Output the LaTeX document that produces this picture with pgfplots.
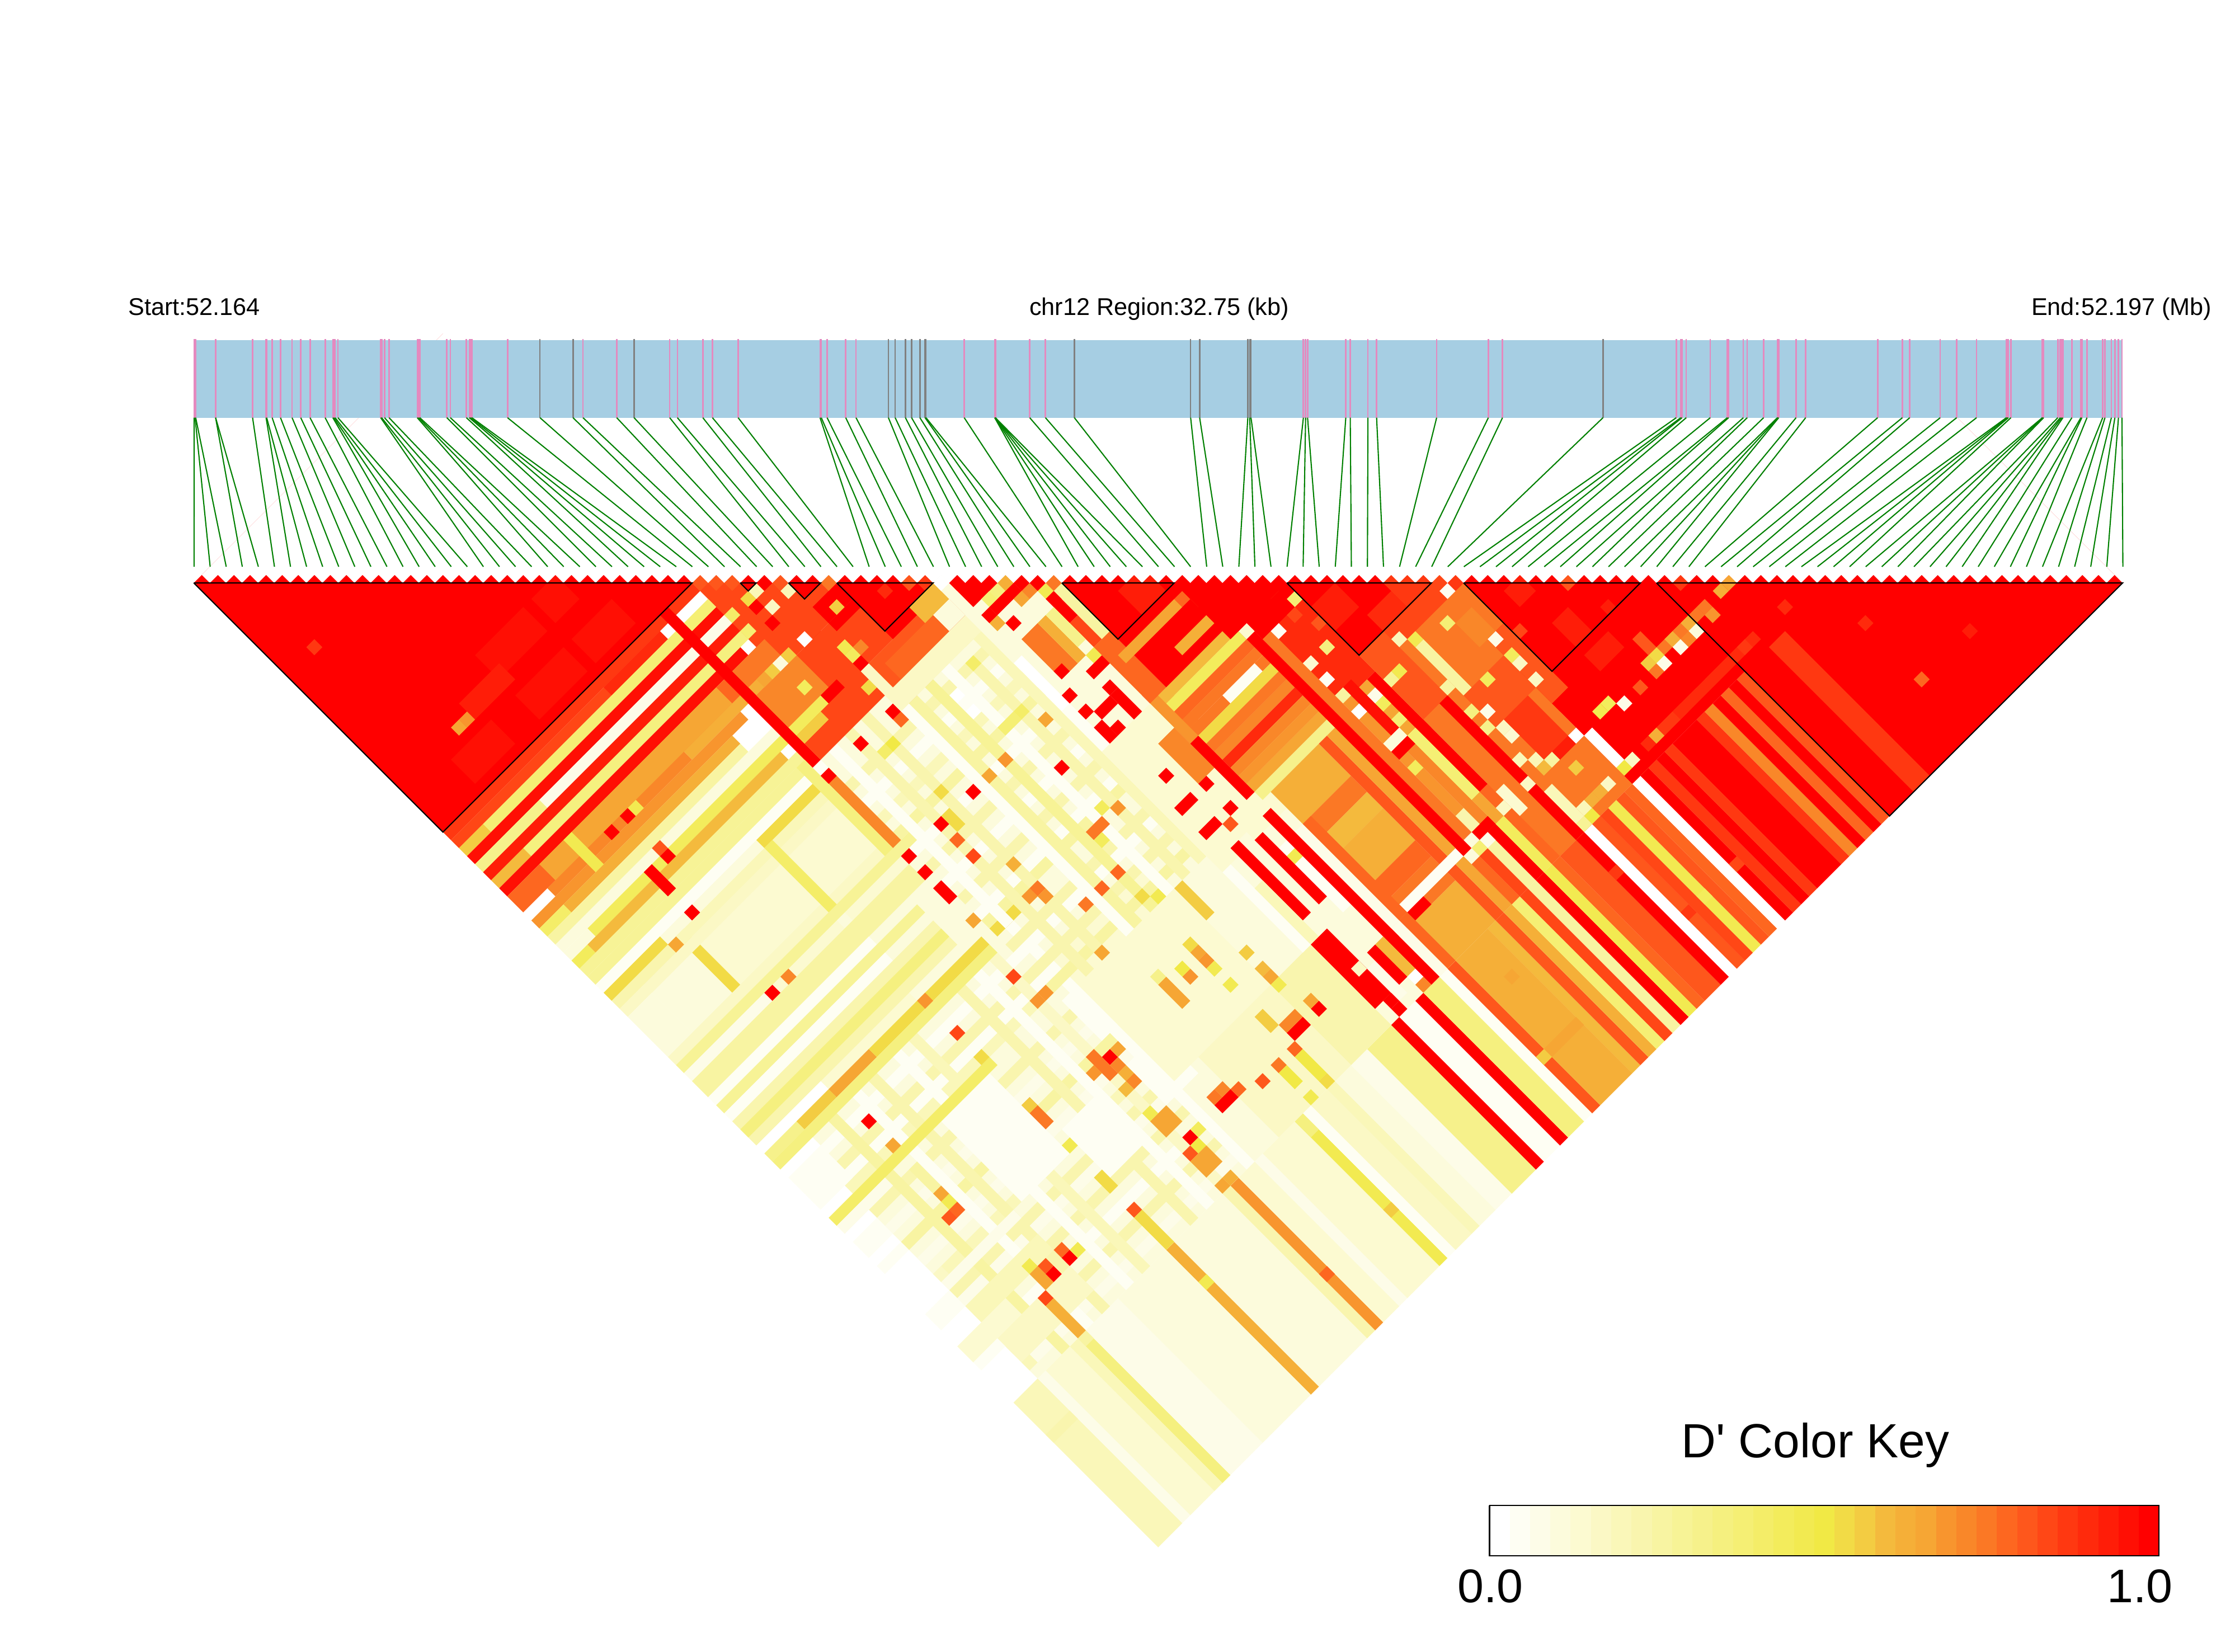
\documentclass[border=0pt]{standalone}
\usepackage{fontspec}
\setmainfont[Ligatures=TeXOff]{Liberation Sans}
\usepackage{pgfplots}
\usepackage{pgfplotstable}
\pgfplotsset{compat=1.18}

% key steps, D' = n/32
\definecolor{k0}{HTML}{FFFFFF}\definecolor{k1}{HTML}{FEFEF3}\definecolor{k2}{HTML}{FDFCE8}\definecolor{k3}{HTML}{FCFBDC}
\definecolor{k4}{HTML}{FCFAD1}\definecolor{k5}{HTML}{FBF8C5}\definecolor{k6}{HTML}{FAF7B9}\definecolor{k7}{HTML}{F9F5AE}
\definecolor{k8}{HTML}{F8F4A2}\definecolor{k9}{HTML}{F7F396}\definecolor{k10}{HTML}{F6F18B}\definecolor{k11}{HTML}{F5F07F}
\definecolor{k12}{HTML}{F5EF74}\definecolor{k13}{HTML}{F4ED68}\definecolor{k14}{HTML}{F3EC5C}\definecolor{k15}{HTML}{F2EA51}
\definecolor{k16}{HTML}{F1E945}\definecolor{k17}{HTML}{F2DB46}\definecolor{k18}{HTML}{F3CC42}\definecolor{k19}{HTML}{F4BA3D}
\definecolor{k20}{HTML}{F5AF38}\definecolor{k21}{HTML}{F6A634}\definecolor{k22}{HTML}{F8952E}\definecolor{k23}{HTML}{F98729}
\definecolor{k24}{HTML}{FB7825}\definecolor{k25}{HTML}{FD6720}\definecolor{k26}{HTML}{FE571C}\definecolor{k27}{HTML}{FF4716}
\definecolor{k28}{HTML}{FF3811}\definecolor{k29}{HTML}{FF2A0C}\definecolor{k30}{HTML}{FF1D08}\definecolor{k31}{HTML}{FF0F04}
\definecolor{k32}{HTML}{FF0000}
\definecolor{genebar}{HTML}{A6CEE3}
\definecolor{snppink}{HTML}{E48ABF}
\definecolor{snpgray}{HTML}{808080}
\definecolor{snpgreen}{HTML}{008000}

% a run of cells: a from #1 to #2, b from #3 to #4, D' step #5
\newcommand{\R}[5]{\edef\tmp{\noexpand\addplot[draw=none,fill=k#5] coordinates {(#1,#3)(#2,#3)(#2,#4)(#1,#4)};}\tmp}
\newcommand{\C}[3]{\pgfmathtruncatemacro\ax{#1+1}\pgfmathtruncatemacro\bx{#2+1}\R{#1}{\ax}{#2}{\bx}{#3}}
\newcommand{\K}[3]{\addplot[draw=none,fill=k#3] coordinates {(#1,2691)(#2,2691)(#2,2781)(#1,2781)};}

% SNP number and place on the gene bar
\pgfplotstableread{
k x
0 347.0
1 348.7
2 349.8
3 385.4
4 385.4
5 451.5
6 475.6
7 476.7
8 486.5
9 501.4
10 522.1
11 537.6
12 554.2
13 581.2
14 595.0
15 596.7
16 599.0
17 604.1
18 680.5
19 682.2
20 687.4
21 695.4
22 745.9
23 748.2
24 750.5
25 798.7
26 805.0
27 833.7
28 838.9
29 841.2
30 843.5
31 907.2
34 1042.1
35 1102.4
37 1197.1
38 1210.8
39 1256.3
40 1273.5
41 1319.4
42 1465.8
43 1468.1
44 1478.4
45 1511.7
46 1530.1
54 1723.5
55 1778.0
56 1778.3
57 1778.6
58 1778.9
59 1779.2
60 1840.6
61 1868.7
68 2329.7
69 2333.7
70 2337.2
71 2405.5
72 2413.5
73 2445.1
74 2460.6
75 2567.9
76 2660.3
77 2685.6
79 2996.2
80 3004.2
81 3006.5
82 3014.0
83 3057.0
84 3087.4
85 3089.7
86 3116.1
87 3123.0
88 3152.3
89 3177.0
90 3178.1
91 3179.3
92 3210.3
93 3227.5
94 3356.1
95 3400.3
96 3413.5
97 3468.0
98 3497.3
99 3532.9
100 3586.2
101 3588.0
102 3589.7
103 3594.3
104 3650.5
105 3651.7
106 3652.8
107 3678.1
108 3682.7
109 3685.0
110 3687.3
111 3703.3
112 3719.4
113 3721.1
114 3730.3
115 3758.4
116 3762.5
117 3773.9
118 3780.2
119 3786.6
120 3792.9
}\pinksnps
\pgfplotstableread{
k x
32 965.2
33 1024.3
36 1133.4
47 1588.0
48 1600.1
49 1618.4
50 1629.4
51 1644.3
52 1653.5
53 1655.2
62 1920.4
63 2128.2
64 2144.3
65 2230.4
66 2233.8
67 2236.1
78 2865.2
}\graysnps

\begin{document}
\begin{tikzpicture}
\path[use as bounding box] (0,0) rectangle (39.95cm,29.53cm);

% the LD triangle: x is the first SNP of a pair, y the second
\begin{axis}[
  x={(1.4365mm,1.4365mm)}, y={(1.4365mm,-1.4365mm)},
  at={(3.464cm,19.11cm)}, anchor=origin,
  xmin=0, xmax=120, ymin=0, ymax=120,
  hide axis, clip=false,
]
% b >= 102, long stripes
\R{0}{3}{102}{120}{6}\R{3}{4}{102}{120}{2}\R{4}{7}{102}{120}{4}\R{7}{8}{102}{120}{6}\R{8}{9}{102}{120}{11}
\R{9}{13}{102}{120}{2}\R{13}{19}{102}{120}{3}\R{19}{20}{102}{120}{20}\R{20}{26}{102}{120}{3}\R{26}{27}{102}{120}{7}
\R{27}{28}{102}{120}{22}\R{28}{30}{102}{120}{4}\R{30}{31}{102}{120}{2}\R{31}{35}{102}{120}{4}\R{35}{36}{102}{120}{15}
\R{36}{37}{102}{120}{1}\R{37}{39}{102}{120}{5}\R{39}{40}{102}{120}{6}\R{40}{42}{102}{120}{3}\R{42}{44}{102}{120}{2}
\R{44}{47}{102}{120}{10}\R{47}{48}{100}{120}{32}\R{48}{50}{102}{120}{1}\R{50}{51}{101}{120}{32}\R{51}{53}{102}{120}{11}
\R{53}{54}{102}{120}{1}\R{54}{55}{102}{120}{26}\R{55}{59}{102}{120}{20}\R{59}{60}{102}{120}{19}\R{60}{61}{102}{120}{26}
\R{61}{62}{102}{120}{20}\R{62}{63}{102}{120}{12}\R{63}{64}{102}{120}{27}\R{64}{65}{102}{120}{8}\R{65}{66}{102}{120}{32}
\R{66}{67}{102}{120}{15}\R{67}{68}{102}{120}{25}\R{68}{70}{102}{120}{26}\R{70}{71}{102}{120}{32}\R{71}{72}{102}{120}{0}
\R{72}{73}{102}{120}{26}\R{73}{74}{102}{120}{27}\R{74}{75}{102}{120}{15}\R{75}{76}{102}{120}{26}\R{76}{77}{102}{120}{25}
\R{77}{78}{101}{120}{0}\R{78}{79}{102}{120}{32}\R{79}{80}{102}{120}{28}\R{80}{81}{102}{120}{32}\R{81}{82}{102}{120}{28}
\R{82}{85}{102}{120}{32}\R{85}{86}{102}{120}{28}\R{86}{87}{98}{120}{23}\R{87}{88}{102}{120}{32}\R{88}{89}{102}{120}{25}
\R{89}{90}{102}{120}{32}\R{90}{91}{102}{120}{26}
\R{0}{3}{106}{107}{7}\C{19}{106}{15}\R{55}{59}{113}{114}{21}\C{54}{113}{18}\C{27}{113}{25}\C{35}{113}{18}\C{57}{106}{21}
\C{78}{113}{27}\C{70}{106}{28}\C{72}{113}{28}\C{74}{113}{14}\R{8}{9}{102}{103}{8}\R{35}{36}{102}{104}{11}

% pale middle
\R{3}{55}{48}{102}{3}
\R{8}{19}{54}{71}{4}\R{20}{27}{53}{64}{4}
\R{46}{47}{50}{62}{0}\R{40}{42}{53}{58}{0}
\R{3}{30}{74}{75}{1}\R{3}{30}{76}{77}{7}\R{3}{30}{77}{78}{1}\R{3}{30}{78}{79}{6}\R{3}{30}{81}{82}{7}\R{3}{30}{83}{84}{2}
\R{3}{30}{85}{86}{8}\R{3}{30}{87}{88}{2}\R{3}{30}{89}{90}{6}\R{3}{30}{91}{92}{7}\R{3}{30}{92}{93}{2}\R{3}{30}{94}{95}{7}\R{3}{30}{96}{97}{1}\R{3}{30}{98}{99}{7}\R{3}{30}{100}{101}{2}
\R{6}{7}{72}{102}{8}\R{9}{10}{72}{102}{1}\R{11}{12}{72}{102}{7}\R{14}{15}{72}{102}{1}\R{16}{17}{72}{102}{6}\R{22}{23}{72}{102}{7}\R{24}{25}{72}{102}{1}\R{26}{27}{72}{102}{5}\R{29}{30}{72}{102}{1}
\R{13}{19}{80}{90}{1}\R{28}{31}{80}{85}{1}\R{20}{25}{88}{94}{1}\R{28}{32}{88}{93}{1}
\R{30}{42}{76}{92}{4}\R{42}{47}{92}{102}{7}\R{33}{42}{92}{102}{5}\R{3}{12}{93}{95}{6}\R{3}{12}{97}{100}{5}
\R{8}{9}{52}{54}{13}\R{8}{9}{54}{59}{17}\R{8}{9}{81}{84}{8}

% rows over a
\R{0}{31}{31}{32}{28}\R{0}{26}{32}{33}{27}\R{19}{26}{32}{33}{29}\R{0}{3}{33}{34}{18}\R{3}{31}{33}{34}{12}
\R{0}{33}{34}{35}{31}\R{0}{8}{35}{36}{10}\R{8}{31}{35}{36}{2}\R{0}{33}{36}{37}{30}\R{0}{4}{37}{38}{19}\R{4}{31}{37}{38}{11}
\R{0}{30}{38}{39}{31}\R{0}{33}{39}{41}{25}\R{4}{26}{39}{41}{21}\R{0}{3}{41}{42}{0}\R{3}{20}{41}{42}{23}\R{20}{30}{41}{42}{20}
\R{0}{26}{42}{43}{22}\R{0}{3}{43}{44}{13}\R{3}{24}{43}{44}{20}\R{0}{24}{44}{45}{8}\R{0}{30}{45}{46}{3}\R{3}{33}{46}{47}{14}\R{0}{3}{46}{47}{3}
\R{0}{2}{47}{48}{14}\R{2}{26}{47}{48}{19}\R{0}{30}{48}{49}{9}\R{0}{30}{49}{50}{9}\R{0}{28}{50}{51}{1}
\R{0}{7}{51}{52}{17}\R{19}{28}{51}{52}{17}\R{0}{7}{52}{53}{7}\R{7}{27}{52}{53}{6}\R{0}{27}{53}{54}{5}\R{0}{3}{54}{59}{3}
\R{0}{27}{59}{60}{5}\R{0}{30}{60}{61}{9}\R{0}{10}{61}{62}{2}\R{0}{27}{62}{64}{8}\R{0}{20}{64}{65}{1}\R{0}{25}{65}{66}{9}
\R{0}{20}{66}{67}{1}\R{0}{25}{67}{70}{7}\R{0}{25}{68}{69}{11}\R{0}{8}{70}{71}{0}\R{0}{4}{71}{72}{10}\R{4}{8}{71}{72}{18}\R{8}{13}{71}{72}{21}\R{13}{27}{71}{72}{17}\R{28}{33}{71}{72}{17}
\R{0}{27}{72}{73}{11}\R{0}{4}{73}{74}{0}\R{0}{4}{74}{78}{1}\R{0}{3}{78}{79}{0}\R{0}{20}{79}{80}{13}\R{0}{6}{80}{81}{2}\R{0}{3}{81}{82}{0}\R{0}{3}{82}{84}{1}\R{0}{3}{85}{86}{1}
\R{0}{3}{91}{93}{1}\R{0}{6}{95}{97}{4}\R{0}{3}{97}{98}{1}\R{3}{4}{89}{90}{5}\R{3}{12}{90}{91}{2}\R{3}{4}{100}{101}{6}

% rows and columns through the middle
\R{28}{46}{53}{54}{7}\R{28}{46}{55}{56}{1}\R{28}{46}{57}{58}{6}\R{28}{46}{59}{60}{8}\R{28}{46}{61}{62}{1}\R{28}{46}{63}{64}{7}\R{28}{46}{65}{66}{1}\R{28}{46}{67}{68}{7}
\R{28}{46}{69}{70}{1}\R{28}{46}{70}{71}{8}\R{28}{46}{73}{74}{7}\R{28}{46}{74}{75}{1}\R{28}{46}{76}{77}{7}\R{28}{46}{78}{79}{8}
\R{33}{34}{50}{80}{7}\R{36}{37}{50}{80}{1}\R{37}{38}{50}{80}{8}\R{39}{40}{50}{80}{9}\R{41}{42}{50}{80}{1}\R{43}{44}{53}{80}{7}\R{45}{46}{50}{80}{6}
\R{46}{47}{62}{92}{1}\R{29}{30}{50}{72}{1}\R{31}{32}{50}{80}{7}

% columns and single cells in the pale part
\R{27}{28}{31}{50}{32}\R{27}{28}{52}{60}{23}\R{26}{27}{49}{60}{11}\R{19}{20}{52}{60}{13}\R{7}{8}{39}{43}{15}\R{35}{36}{35}{47}{32}
\R{10}{11}{46}{49}{32}\C{12}{46}{32}\C{12}{45}{26}\C{12}{41}{32}\C{10}{41}{32}\C{13}{41}{15}\C{10}{51}{32}\C{10}{61}{32}\C{12}{61}{23}
\C{7}{52}{21}\C{31}{51}{32}\C{31}{47}{32}\C{27}{51}{32}\C{35}{51}{32}\C{35}{52}{25}\C{35}{61}{32}\C{31}{61}{32}\C{31}{63}{25}\C{31}{65}{27}
\C{27}{61}{32}\C{27}{63}{32}\R{27}{28}{65}{67}{32}\C{27}{69}{21}\C{37}{61}{21}\C{33}{59}{17}\C{33}{53}{16}\C{32}{53}{13}
\C{39}{61}{22}\C{42}{65}{32}\C{44}{61}{21}\C{43}{59}{13}\R{41}{43}{59}{60}{12}\R{40}{42}{71}{72}{24}\C{43}{71}{22}\C{42}{70}{14}\C{40}{72}{14}\C{44}{51}{10}\C{43}{53}{13}\R{32}{33}{61}{63}{17}
\C{33}{68}{20}\C{33}{71}{24}\C{32}{71}{22}\C{33}{72}{22}\C{39}{75}{25}\C{37}{75}{25}\C{35}{75}{24}\C{39}{78}{17}\C{40}{79}{15}\R{42}{43}{80}{84}{18}
\C{33}{79}{21}\C{26}{75}{27}\C{26}{78}{22}\C{27}{78}{22}\C{19}{71}{22}\C{19}{75}{27}\C{19}{78}{17}\C{8}{75}{32}\C{8}{78}{21}\C{8}{84}{21}\C{8}{85}{15}\C{8}{86}{25}\C{7}{86}{26}
\R{19}{20}{84}{87}{24}\C{19}{84}{18}\C{19}{89}{15}\R{19}{20}{93}{95}{17}\C{19}{97}{26}\R{19}{20}{98}{102}{17}
\C{12}{95}{25}\C{12}{96}{32}\C{13}{96}{15}\C{10}{95}{26}\C{10}{96}{32}\C{8}{97}{27}\R{8}{9}{98}{102}{20}\C{9}{94}{15}\R{9}{10}{95}{97}{21}
\C{27}{86}{32}\R{26}{27}{85}{88}{24}\C{25}{86}{22}\C{28}{86}{21}\C{27}{87}{23}\C{27}{88}{20}\C{27}{89}{23}\C{26}{89}{19}
\R{26}{28}{93}{95}{21}\C{27}{96}{32}\C{26}{97}{26}\C{27}{97}{16}\R{26}{28}{98}{100}{21}\C{28}{96}{14}\C{26}{92}{15}\C{26}{101}{21}\C{27}{101}{20}
\C{39}{84}{17}\C{39}{85}{21}\C{39}{86}{22}\C{37}{86}{22}\C{37}{85}{16}\C{39}{87}{15}\R{35}{36}{85}{88}{21}\C{35}{84}{10}\C{39}{89}{15}
\C{42}{88}{18}\C{42}{90}{19}\C{42}{91}{21}\C{42}{92}{15}\R{39}{40}{93}{95}{18}
\R{31}{33}{96}{97}{32}\C{32}{95}{23}\C{31}{95}{24}\C{33}{96}{25}\C{43}{96}{32}\C{43}{95}{21}\R{40}{42}{96}{97}{32}\R{40}{42}{95}{96}{23}\C{39}{97}{25}
\C{37}{97}{24}\R{37}{38}{98}{100}{16}\R{39}{40}{98}{101}{16}\C{35}{97}{26}\C{39}{101}{17}\C{37}{101}{15}

% right of the first block
\R{28}{46}{42}{50}{27}\R{31}{46}{31}{42}{27}\R{28}{33}{42}{46}{23}\R{28}{32}{46}{47}{14}\R{28}{31}{47}{48}{18}
\R{28}{31}{33}{34}{12}\R{28}{31}{35}{36}{2}\R{28}{31}{37}{38}{11}\R{28}{32}{39}{41}{24}\C{29}{41}{21}\R{30}{31}{41}{42}{18}
\C{38}{41}{18}\R{37}{40}{40}{41}{32}\R{37}{40}{42}{43}{32}\C{37}{41}{32}\C{39}{41}{32}
\C{34}{41}{0}\C{31}{41}{3}\C{32}{41}{18}\C{34}{37}{5}\C{36}{37}{6}\C{33}{35}{17}\C{34}{35}{6}\C{33}{38}{32}\C{33}{36}{32}\C{31}{35}{13}\C{31}{37}{12}
\C{36}{46}{32}\C{36}{44}{15}\C{36}{45}{14}\C{37}{45}{23}\C{31}{44}{14}\R{32}{34}{46}{47}{32}\C{35}{48}{17}\C{38}{49}{19}\C{39}{51}{19}\C{37}{51}{21}\C{43}{49}{22}\C{42}{48}{16}
\R{36}{46}{47}{52}{5}\R{37}{46}{47}{50}{26}\R{38}{44}{48}{50}{25}\R{40}{43}{46}{47}{32}\R{43}{46}{46}{48}{19}\R{44}{46}{48}{50}{3}

% top of the middle
\R{46}{54}{46}{56}{3}\R{47}{50}{47}{50}{32}\C{49}{50}{11}\C{48}{50}{12}\C{50}{51}{8}\R{48}{51}{51}{52}{32}\C{51}{52}{23}\C{52}{53}{15}\C{53}{54}{8}\C{50}{52}{21}
\C{47}{52}{20}\C{47}{51}{32}\C{48}{53}{32}\R{48}{50}{55}{60}{24}\R{50}{51}{55}{60}{20}\R{52}{53}{54}{57}{32}\R{52}{53}{57}{60}{27}\R{51}{52}{55}{59}{10}\R{53}{54}{55}{60}{8}
\C{48}{59}{32}\C{51}{60}{15}\R{50}{52}{61}{62}{32}\C{50}{63}{32}\C{47}{61}{32}\C{47}{63}{32}\R{47}{48}{65}{67}{32}\C{48}{66}{32}\R{48}{50}{64}{65}{32}
\R{50}{51}{64}{67}{32}\C{52}{66}{32}\C{48}{69}{32}\C{52}{69}{32}\C{52}{68}{26}\C{53}{63}{10}\R{46}{54}{67}{82}{4}\R{52}{54}{60}{67}{25}
\R{52}{54}{67}{72}{22}\R{50}{52}{70}{75}{23}\C{48}{72}{32}\C{50}{75}{32}\R{52}{53}{72}{79}{32}\R{47}{49}{75}{76}{32}\C{50}{78}{32}\R{47}{49}{78}{79}{32}\C{49}{79}{26}

% orange block, middle right
\R{54}{62}{61}{67}{32}\R{53}{60}{62}{63}{21}\R{57}{61}{65}{66}{20}\C{60}{62}{25}\C{61}{62}{28}\C{61}{63}{26}
\R{53}{62}{67}{68}{19}\R{53}{62}{68}{69}{14}\R{53}{62}{69}{70}{25}\R{53}{62}{70}{71}{24}\R{53}{62}{71}{72}{24}\R{57}{61}{71}{72}{1}
\R{53}{62}{72}{73}{17}\R{53}{62}{73}{74}{24}\R{53}{62}{74}{75}{23}\R{53}{62}{75}{76}{29}\R{53}{62}{76}{77}{23}\R{53}{62}{77}{78}{22}\R{53}{62}{78}{79}{21}\R{53}{62}{79}{80}{10}
\R{54}{60}{80}{84}{20}\R{54}{60}{84}{86}{24}\R{54}{60}{86}{88}{19}\R{54}{60}{88}{92}{20}\R{54}{60}{92}{94}{25}\R{54}{60}{94}{97}{24}\R{54}{60}{97}{102}{20}
\R{60}{61}{80}{102}{26}\R{61}{62}{80}{102}{21}\R{54}{62}{95}{96}{1}\R{52}{57}{96}{97}{32}
\R{53}{54}{84}{96}{2}\R{54}{55}{84}{96}{25}\R{54}{55}{96}{102}{25}\R{53}{54}{96}{102}{2}
\R{49}{50}{81}{92}{3}\R{51}{52}{84}{92}{1}\C{51}{85}{15}\R{48}{49}{81}{90}{32}\R{50}{51}{82}{90}{32}\R{52}{53}{81}{102}{32}\R{47}{48}{85}{92}{6}
\R{47}{49}{92}{100}{32}\C{48}{96}{5}\R{51}{52}{96}{100}{19}\R{49}{50}{97}{101}{2}\R{50}{51}{96}{100}{32}\C{51}{100}{0}\C{51}{101}{23}\C{48}{100}{32}\C{48}{101}{32}

% a from 62 up
\R{63}{68}{61}{79}{29}\R{62}{63}{61}{69}{29}\R{63}{68}{61}{70}{32}\R{62}{63}{69}{96}{32}\R{62}{63}{96}{102}{25}
\R{63}{64}{70}{96}{24}\R{64}{65}{79}{96}{22}\R{65}{66}{79}{96}{23}\R{66}{67}{79}{96}{21}\R{67}{68}{79}{93}{32}\R{64}{68}{85}{86}{32}\R{65}{66}{78}{84}{31}
\R{66}{67}{85}{93}{12}\R{63}{64}{96}{102}{27}\R{64}{65}{96}{102}{8}\R{65}{66}{96}{102}{32}\R{66}{67}{96}{102}{14}\R{67}{70}{93}{102}{25}\R{62}{66}{95}{96}{32}
\R{68}{80}{77}{102}{24}\R{68}{71}{77}{85}{26}\R{70}{71}{85}{102}{32}\R{68}{77}{68}{77}{32}\R{68}{71}{71}{74}{30}\R{71}{74}{75}{77}{29}\R{74}{77}{74}{77}{28}
\R{72}{79}{86}{90}{26}\R{71}{77}{77}{79}{27}\R{72}{73}{80}{86}{8}\R{73}{76}{90}{96}{28}\R{72}{77}{95}{96}{30}\R{77}{78}{84}{100}{22}\R{77}{78}{93}{95}{2}
\R{76}{78}{81}{84}{23}\R{78}{79}{79}{84}{24}\R{79}{80}{79}{84}{30}\R{77}{79}{77}{79}{26}\R{77}{91}{84}{102}{32}\R{77}{79}{84}{92}{26}
\C{62}{65}{4}\C{64}{65}{12}\C{61}{67}{13}\C{62}{68}{4}\C{64}{70}{1}\C{67}{69}{12}\C{66}{70}{27}\C{67}{72}{26}\C{66}{67}{26}
\C{64}{74}{4}\C{66}{74}{11}\C{64}{76}{1}\C{64}{78}{8}\C{64}{80}{0}\C{66}{80}{2}\C{66}{81}{14}\C{66}{83}{12}\C{71}{78}{6}\C{72}{79}{15}\C{75}{80}{12}\C{77}{78}{1}
\C{77}{84}{2}\C{74}{86}{14}\C{71}{84}{8}\C{69}{80}{15}\C{68}{80}{9}\C{66}{96}{14}\R{68}{69}{94}{97}{4}\C{71}{87}{11}\C{72}{88}{2}\C{71}{89}{10}\C{64}{87}{14}\R{64}{66}{84}{85}{3}
\C{63}{95}{3}\C{64}{96}{2}\C{63}{96}{12}\C{62}{96}{3}\C{77}{86}{14}\C{77}{87}{5}\C{77}{89}{5}\C{76}{95}{0}\C{72}{90}{5}\C{72}{91}{4}\C{71}{93}{6}\C{72}{94}{6}\C{73}{95}{8}\C{74}{97}{18}
\C{72}{95}{19}\C{75}{100}{5}\C{72}{100}{6}\C{72}{101}{16}\C{71}{101}{9}\R{71}{72}{97}{101}{6}\C{73}{100}{20}\C{74}{100}{20}\C{67}{95}{5}\C{70}{95}{5}\R{64}{65}{93}{95}{7}
\C{77}{100}{16}\C{78}{100}{5}\R{77}{78}{96}{100}{0}

% last blocks, red
\R{85}{95}{95}{97}{24}\C{85}{95}{18}\C{86}{95}{17}\C{86}{96}{2}\R{86}{87}{93}{95}{26}\C{81}{96}{2}\C{80}{95}{14}\C{79}{95}{15}\C{83}{96}{26}\R{84}{85}{100}{101}{28}
\R{80}{91}{100}{101}{29}\C{81}{100}{20}\R{82}{84}{100}{101}{28}\C{90}{95}{20}\C{90}{96}{3}\C{89}{95}{24}\C{88}{95}{20}\C{89}{96}{23}\C{88}{96}{2}\R{87}{88}{96}{100}{32}\R{84}{85}{95}{97}{32}
\R{91}{120}{91}{120}{32}\R{94}{96}{102}{120}{28}\C{101}{106}{29}\C{97}{100}{29}\C{107}{113}{30}\C{101}{113}{25}\C{94}{95}{20}\C{92}{95}{24}\C{92}{96}{22}\C{91}{95}{24}\R{91}{94}{100}{101}{29}\C{92}{100}{28}
\R{79}{90}{79}{90}{32}\R{81}{83}{82}{84}{30}\C{85}{85}{27}\C{86}{89}{30}\C{79}{85}{27}\R{82}{84}{87}{90}{30}\R{82}{85}{91}{93}{30}\R{87}{90}{79}{82}{29}
\R{54}{61}{54}{61}{32}\R{59}{61}{54}{57}{29}\R{57}{60}{58}{61}{30}\R{40}{46}{40}{46}{32}\R{43}{46}{40}{42}{27}\C{42}{43}{29}\R{37}{39}{37}{39}{32}\C{34}{34}{32}
\R{0}{31}{0}{31}{32}\R{20}{23}{22}{25}{31}\R{13}{19}{27}{30}{31}\R{13}{19}{22}{25}{31}\R{20}{25}{27}{30}{31}\R{5}{10}{27}{30}{31}\R{9}{14}{24}{26}{30}
\C{7}{25}{21}\C{8}{25}{22}\C{3}{11}{28}

% the top row of cells
\C{31}{31}{26}\C{32}{32}{26}\C{33}{33}{26}\C{34}{34}{32}\C{35}{35}{32}\C{36}{36}{26}\C{37}{37}{32}\C{38}{38}{32}\C{39}{39}{24}\C{44}{44}{26}\C{45}{45}{28}\C{46}{46}{0}
\C{47}{47}{32}\C{48}{48}{32}\C{49}{49}{32}\C{50}{50}{20}\C{51}{51}{32}\C{52}{52}{32}\C{53}{53}{24}\R{61}{68}{61}{68}{32}\C{76}{76}{28}\C{77}{77}{27}\C{78}{78}{28}\C{85}{85}{26}\C{90}{90}{32}\C{92}{92}{28}\C{95}{95}{21}

% everything above the top row stays white
\addplot[draw=none,fill=white] coordinates {
(0,0)(1,0)(1,1)(2,1)(2,2)(3,2)(3,3)(4,3)(4,4)(5,4)(5,5)(6,5)(6,6)(7,6)(7,7)(8,7)(8,8)(9,8)(9,9)(10,9)(10,10)(11,10)(11,11)(12,11)(12,12)(13,12)(13,13)(14,13)(14,14)(15,14)(15,15)(16,15)(16,16)(17,16)(17,17)(18,17)(18,18)(19,18)(19,19)(20,19)
(20,20)(21,20)(21,21)(22,21)(22,22)(23,22)(23,23)(24,23)(24,24)(25,24)(25,25)(26,25)(26,26)(27,26)(27,27)(28,27)(28,28)(29,28)(29,29)(30,29)(30,30)(31,30)(31,31)(32,31)(32,32)(33,32)(33,33)(34,33)(34,34)(35,34)(35,35)(36,35)(36,36)(37,36)(37,37)(38,37)(38,38)(39,38)(39,39)(40,39)
(40,40)(41,40)(41,41)(42,41)(42,42)(43,42)(43,43)(44,43)(44,44)(45,44)(45,45)(46,45)(46,46)(47,46)(47,47)(48,47)(48,48)(49,48)(49,49)(50,49)(50,50)(51,50)(51,51)(52,51)(52,52)(53,52)(53,53)(54,53)(54,54)(55,54)(55,55)(56,55)(56,56)(57,56)(57,57)(58,57)(58,58)(59,58)(59,59)(60,59)
(60,60)(61,60)(61,61)(62,61)(62,62)(63,62)(63,63)(64,63)(64,64)(65,64)(65,65)(66,65)(66,66)(67,66)(67,67)(68,67)(68,68)(69,68)(69,69)(70,69)(70,70)(71,70)(71,71)(72,71)(72,72)(73,72)(73,73)(74,73)(74,74)(75,74)(75,75)(76,75)(76,76)(77,76)(77,77)(78,77)(78,78)(79,78)(79,79)(80,79)
(80,80)(81,80)(81,81)(82,81)(82,82)(83,82)(83,83)(84,83)(84,84)(85,84)(85,85)(86,85)(86,86)(87,86)(87,87)(88,87)(88,88)(89,88)(89,89)(90,89)(90,90)(91,90)(91,91)(92,91)(92,92)(93,92)(93,93)(94,93)(94,94)(95,94)(95,95)(96,95)(96,96)(97,96)(97,97)(98,97)(98,98)(99,98)(99,99)(100,99)
(100,100)(101,100)(101,101)(102,101)(102,102)(103,102)(103,103)(104,103)(104,104)(105,104)(105,105)(106,105)(106,106)(107,106)(107,107)(108,107)(108,108)(109,108)(109,109)(110,109)(110,110)(111,110)(111,111)(112,111)(112,112)(113,112)(113,113)(114,113)(114,114)(115,114)(115,115)(116,115)(116,116)(117,116)(117,117)(118,117)(118,118)(119,118)(119,119)(120,119)
(120,120)(120,0)
};

% LD blocks
\addplot[black,line width=0.6pt] coordinates {(0,0)(0,31)(31,31)(0,0)};
\addplot[black,line width=0.6pt] coordinates {(34,34)(34,35)(35,35)(34,34)};
\addplot[black,line width=0.6pt] coordinates {(37,37)(37,39)(39,39)(37,37)};
\addplot[black,line width=0.6pt] coordinates {(40,40)(40,46)(46,46)(40,40)};
\addplot[black,line width=0.6pt] coordinates {(54,54)(54,61)(61,61)(54,54)};
\addplot[black,line width=0.6pt] coordinates {(68,68)(68,77)(77,77)(68,68)};
\addplot[black,line width=0.6pt] coordinates {(79,79)(79,90)(90,90)(79,79)};
\addplot[black,line width=0.6pt] coordinates {(91,91)(91,120)(120,120)(91,91)};
\end{axis}

% everything else in reference pixels
\begin{axis}[
  at={(0,0)}, anchor=south west, scale only axis,
  width=39.95cm, height=29.53cm,
  xmin=0, xmax=3995, ymin=0, ymax=2953, y dir=reverse,
  hide axis, clip=false,
]
\addplot[draw=none,fill=genebar] coordinates {(346,607.7)(3794,607.7)(3794,746.7)(346,746.7)};
\addplot[snppink,line width=0.75pt,quiver={u=0,v=140.7}] table[x=x,y expr=606] {\pinksnps};
\addplot[snpgray,line width=0.7pt,quiver={u=0,v=140.7}] table[x=x,y expr=606] {\graysnps};
\addplot[snpgreen,line width=0.6pt,quiver={u=\thisrow{k}*28.73+346.9-\thisrow{x},v=266.3}] table[x=x,y expr=746.7] {\pinksnps};
\addplot[snpgreen,line width=0.6pt,quiver={u=\thisrow{k}*28.73+346.9-\thisrow{x},v=266.3}] table[x=x,y expr=746.7] {\graysnps};

\node[anchor=base,font=\fontsize{12.3}{14}\selectfont] at (axis cs:347,563) {Start:52.164};
\node[anchor=base,font=\fontsize{12.3}{14}\selectfont] at (axis cs:2072,563) {chr12 Region:32.75 (kb)};
\node[anchor=base,font=\fontsize{12.3}{14}\selectfont] at (axis cs:3792,563) {End:52.197 (Mb)};

% colour key
\K{2662.3}{2698.6}{0}\K{2698.6}{2734.9}{1}\K{2734.9}{2771.1}{2}\K{2771.1}{2807.4}{3}\K{2807.4}{2843.7}{4}\K{2843.7}{2880}{5}\K{2880}{2916.3}{6}\K{2916.3}{2952.5}{7}
\K{2952.5}{2988.8}{8}\K{2988.8}{3025.1}{9}\K{3025.1}{3061.4}{10}\K{3061.4}{3097.7}{11}\K{3097.7}{3133.9}{12}\K{3133.9}{3170.2}{13}\K{3170.2}{3206.5}{14}\K{3206.5}{3242.8}{15}
\K{3242.8}{3279.1}{16}\K{3279.1}{3315.3}{17}\K{3315.3}{3351.6}{18}\K{3351.6}{3387.9}{19}\K{3387.9}{3424.2}{20}\K{3424.2}{3460.5}{21}\K{3460.5}{3496.7}{22}\K{3496.7}{3533}{23}
\K{3533}{3569.3}{24}\K{3569.3}{3605.6}{25}\K{3605.6}{3641.9}{26}\K{3641.9}{3678.1}{27}\K{3678.1}{3714.4}{28}\K{3714.4}{3750.7}{29}\K{3750.7}{3787}{30}\K{3787}{3823.3}{31}\K{3823.3}{3859}{32}
\addplot[black,line width=0.7pt] coordinates {(2662.3,2691)(3859,2691)(3859,2781)(2662.3,2781)(2662.3,2691)};
\node[anchor=base,font=\fontsize{24.4}{28}\selectfont] at (axis cs:3245,2605) {D' Color Key};
\node[anchor=base,font=\fontsize{24}{28}\selectfont] at (axis cs:2664,2864) {0.0};
\node[anchor=base,font=\fontsize{24}{28}\selectfont] at (axis cs:3825,2864) {1.0};
\end{axis}
\end{tikzpicture}
\end{document}
